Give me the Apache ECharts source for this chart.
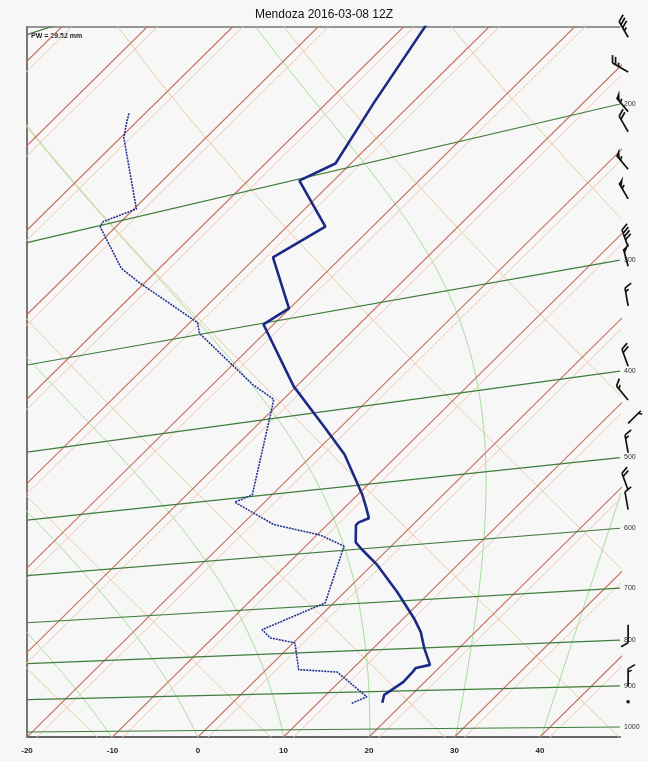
<!DOCTYPE html>
<html>
<head>
<meta charset="utf-8">
<script src="https://cdn.jsdelivr.net/npm/echarts@6/dist/echarts.min.js"></script>
<style>
html, body { margin: 0; padding: 0; background: #f7f7f7; }
#skewt { width: 648px; height: 761px; }
</style>
</head>
<body>
<div id="skewt"></div>
<script>
// sounding (hPa, degC)
var tempPres = [929, 909, 878, 854, 845, 839, 800, 765, 736, 682, 630, 602, 588, 560, 556, 551, 535, 514, 456, 419, 367, 301, 291, 248, 234, 201, 196, 169, 141];
var tempVals = [17.5, 16.8, 17.5, 17.4, 17.3, 18.6, 15.9, 13.6, 11.2, 6.1, 0.6, -2.9, -4.6, -6.6, -6.6, -5.9, -7.4, -9.5, -16.3, -21.8, -30.3, -41.2, -40.1, -48.0, -45.5, -54.0, -51.8, -54.5, -57.6];
var dewPres = [929, 913, 849, 840, 777, 763, 744, 695, 593, 571, 547, 506, 498, 391, 378, 359, 299, 289, 247, 233, 201, 198, 195, 154, 146, 143];
var dewVals = [14.0, 15.0, 8.6, 3.8, 0.2, -3.3, -5.2, -1.0, -5.5, -9.6, -16.3, -23.5, -22.3, -30.0, -31.1, -35.2, -47.6, -49.1, -60.5, -64.4, -71.8, -72.1, -69.7, -79.6, -81.3, -81.9];

// winds (hPa, deg, kt)
var windPres = [933, 902, 770, 573, 545, 495, 459, 432, 396, 339, 306, 291, 257, 238, 216, 205, 185, 169];
var windDir = [0, 0, 180, 350, 340, 350, 45, 320, 340, 350, 345, 340, 330, 320, 330, 320, 300, 330];
var windSpd = [0, 15, 10, 10, 20, 15, 3, 15, 20, 15, 50, 40, 55, 55, 20, 55, 25, 35];

// background lines
var isobars = [1000, 900, 800, 700, 600, 500, 400, 300, 200, 100];
var isotherms = [-120, -110, -100, -90, -80, -70, -60, -50, -40, -30, -20, -10, 0, 10, 20, 30, 40, 50];
var thetas = [240, 260, 280, 300, 320, 340, 360, 380, 400, 420, 440, 460, 480];
var moistStarts = [-20, -10, 0, 10, 20, 30, 40];
var tempTicks = [-20, -10, 0, 10, 20, 30, 40];

var XMIN = -20, XMAX = 49.36, YMAX = 710;
var PXDEG = 8.55, SKEW = 1.012;

// skewed, slightly tilted log-p frame of the original plot
function heightAt(xv, p) {
    var u = Math.log(1000 / p);
    var f = (xv - XMIN) / (XMAX - XMIN);
    return 5 + 5 * f + (307 + 83 * f) * u - 1.8 * u * u;
}
function toXY(t, p) {
    var xv = t, h = 0;
    for (var i = 0; i < 14; i++) {
        h = heightAt(xv, p);
        xv = t + SKEW * h / PXDEG;
    }
    return [xv, h];
}

function esat(tc) {
    return 6.112 * Math.exp(17.67 * tc / (tc + 243.5));
}
function moistLine(t0, p0) {
    var pts = [], tk = t0 + 273.15, p = p0;
    var step = 0.01;
    while (p > 90) {
        pts.push(toXY(tk - 273.15, p));
        var es = esat(tk - 273.15);
        var rs = 0.7 * 0.622 * es / (p - es);
        var dTdlnp = (287 * tk + 2.5e6 * rs) / (1005 + 2.5e6 * 2.5e6 * rs * 0.622 / (287 * tk * tk));
        tk -= dTdlnp * step;
        p = p * Math.exp(-step);
    }
    return pts;
}

var series = [];
function addLine(data, color, width, extra) {
    var s = {
        type: 'line', data: data, showSymbol: false, silent: true,
        lineStyle: { color: color, width: width }, z: 1
    };
    for (var k in extra) s[k] = extra[k];
    series.push(s);
}

thetas.forEach(function (th) {
    var d = [];
    for (var p = 1050; p >= 90; p -= 20) d.push(toXY(th * Math.pow(p / 1000, 0.2857) - 273.15, p));
    addLine(d, '#ebc9a0', 1);
});
moistStarts.forEach(function (t0) {
    addLine(moistLine(t0, 1020), '#a6dd9c', 1);
});
isotherms.forEach(function (t) {
    // faint twin just right of each isotherm, as in the original
    addLine([toXY(t + 1.2, 1060), toXY(t + 1.2, 80)], '#f3c4ae', 1);
    addLine([toXY(t, 1060), toXY(t, 80)], '#c7705c', 1.2);
});
isobars.forEach(function (p) {
    var hl = heightAt(XMIN, p), hr = heightAt(XMAX, p);
    addLine([[XMIN, hl], [XMAX, hr]], '#3f7d3a', 1.2, {
        name: String(p),
        endLabel: {
            show: p >= 200, formatter: '{a}', fontSize: 7, color: '#333',
            fontFamily: 'Liberation Sans', distance: 4
        }
    });
});

series.push({
    type: 'line', name: 'Td', showSymbol: false, silent: true, z: 5,
    data: dewPres.map(function (p, i) { return toXY(dewVals[i], p); }),
    lineStyle: { color: '#24338f', width: 1.6, type: [2, 1] }
});
series.push({
    type: 'line', name: 'T', showSymbol: false, silent: true, z: 6,
    data: tempPres.map(function (p, i) { return toXY(tempVals[i], p); }),
    lineStyle: { color: '#1b2a85', width: 2.6 }
});

// barbs drawn just right of the plot
var barbX = XMAX + 0.95;
series.push({
    type: 'custom', silent: true, clip: false, z: 7,
    data: windPres.map(function (p, i) {
        var f = 1 + (8 / 593);
        var u = Math.log(1000 / p);
        var h = 5 + 5 * f + (307 + 83 * f) * u - 1.8 * u * u;
        return [barbX, h, windDir[i], windSpd[i]];
    }),
    renderItem: function (params, api) {
        var c = api.coord([api.value(0), api.value(1)]);
        var dir = api.value(2) * Math.PI / 180, spd = api.value(3);
        if (spd < 1) {
            return { type: 'circle', shape: { cx: c[0], cy: c[1] + 2, r: 1.8 }, style: { fill: '#111' } };
        }
        var L = 18, ux = Math.sin(dir), uy = -Math.cos(dir);
        var fa = dir + Math.PI / 3, fx = Math.sin(fa), fy = -Math.cos(fa);
        var kids = [{
            type: 'line', shape: { x1: c[0], y1: c[1], x2: c[0] + ux * L, y2: c[1] + uy * L },
            style: { stroke: '#111', lineWidth: 1.7 }
        }];
        var pos = L, rest = Math.round(spd / 5) * 5;
        while (rest >= 50) {
            var ax = c[0] + ux * pos, ay = c[1] + uy * pos;
            kids.push({
                type: 'polygon',
                shape: { points: [[ax, ay], [ax + fx * 8, ay + fy * 8], [c[0] + ux * (pos - 5), c[1] + uy * (pos - 5)]] },
                style: { fill: '#111' }
            });
            pos -= 6; rest -= 50;
        }
        while (rest >= 10) {
            var bx = c[0] + ux * pos, by = c[1] + uy * pos;
            kids.push({
                type: 'line', shape: { x1: bx, y1: by, x2: bx + fx * 8, y2: by + fy * 8 },
                style: { stroke: '#111', lineWidth: 1.7 }
            });
            pos -= 3.5; rest -= 10;
        }
        if (rest >= 5) {
            if (pos === L) pos -= 3.5;
            var hx = c[0] + ux * pos, hy = c[1] + uy * pos;
            kids.push({
                type: 'line', shape: { x1: hx, y1: hy, x2: hx + fx * 4, y2: hy + fy * 4 },
                style: { stroke: '#111', lineWidth: 1.7 }
            });
        }
        return { type: 'group', children: kids };
    }
});

var chart = echarts.init(document.getElementById('skewt'));
chart.setOption({
    animation: false,
    backgroundColor: '#f7f7f7',
    title: {
        text: 'Mendoza 2016-03-08 12Z', left: 'center', top: 4,
        textStyle: { fontSize: 12, fontWeight: 'normal', color: '#111', fontFamily: 'Liberation Sans' }
    },
    graphic: [{
        type: 'text', left: 31, top: 33,
        style: { text: 'PW = 29.52 mm', fontSize: 7, fontWeight: 'bold', fill: '#222', fontFamily: 'Liberation Sans' }
    }],
    grid: { left: 27, top: 27, width: 593, height: 710 },
    xAxis: [{
        type: 'value', min: XMIN, max: XMAX, interval: 10,
        axisLine: { onZero: false, lineStyle: { color: '#666', width: 2 } },
        axisTick: { show: false }, splitLine: { show: false },
        axisLabel: {
            margin: 10, fontSize: 8, fontWeight: 'bold', color: '#222', fontFamily: 'Liberation Sans',
            formatter: function (v) { return tempTicks.indexOf(v) >= 0 ? String(v) : ''; }
        }
    }, {
        type: 'value', position: 'top', min: XMIN, max: XMAX,
        axisLine: { show: true, onZero: false, lineStyle: { color: '#777', width: 1.5 } },
        axisTick: { show: false }, axisLabel: { show: false }, splitLine: { show: false }
    }],
    yAxis: {
        type: 'value', min: 0, max: YMAX,
        axisLine: { show: true, onZero: false, lineStyle: { color: '#777', width: 2 } },
        axisTick: { show: false }, axisLabel: { show: false }, splitLine: { show: false }
    },
    series: series
});
</script>
</body>
</html>
